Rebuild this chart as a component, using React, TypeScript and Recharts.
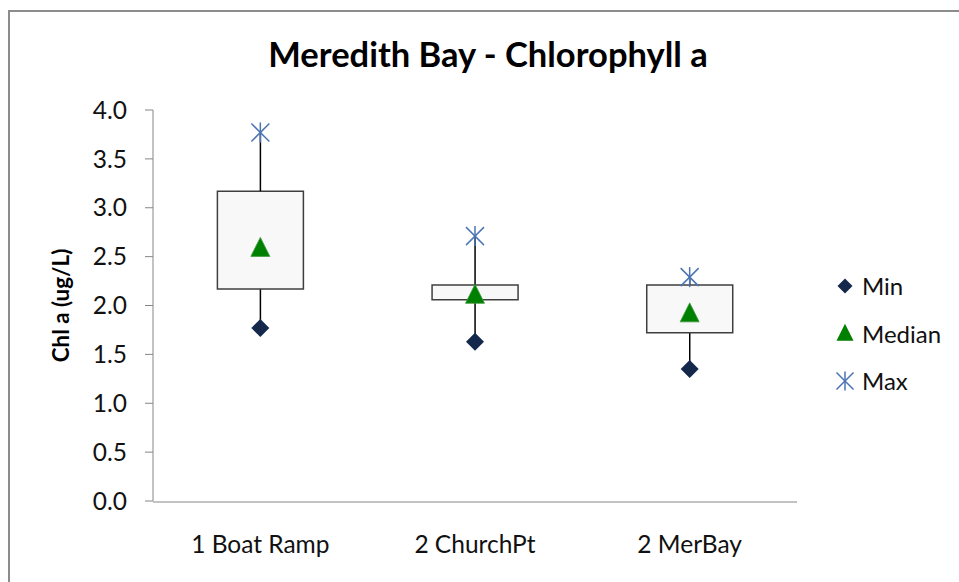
import React from "react";
import {
  ComposedChart,
  Bar,
  Scatter,
  XAxis,
  YAxis,
  Legend,
} from "recharts";

const categories = ["1 Boat Ramp", "2 ChurchPt", "2 MerBay"];
const minValues = [1.77, 1.63, 1.35];
const q1Values = [2.17, 2.06, 1.72];
const medianValues = [2.59, 2.11, 1.92];
const q3Values = [3.17, 2.21, 2.21];
const maxValues = [3.77, 2.71, 2.29];
const yTicks = [0, 0.5, 1, 1.5, 2, 2.5, 3, 3.5, 4];
const edgeTicks = [0, 1, 2, 3];
const legendNames = ["Min", "Median", "Max"];

const data = categories.map((name, i) => ({
  name,
  base: minValues[i],
  lowWhisker: q1Values[i] - minValues[i],
  box: q3Values[i] - q1Values[i],
  highWhisker: maxValues[i] - q3Values[i],
  min: minValues[i],
  median: medianValues[i],
  max: maxValues[i],
}));

const FONT = "Lato, 'Open Sans', sans-serif";
const AXIS = "#868686";
const MIN_COLOR = "#14284b";
const MED_COLOR = "#008000";
const MAX_COLOR = "#4a74b4";

const Whisker = (p: any) => {
  const x = p.x + p.width / 2;
  return <line x1={x} x2={x} y1={p.y} y2={p.y + p.height} stroke="#000" strokeWidth={1.5} />;
};

const diamondPath = (cx: number, cy: number, r: number) =>
  `M${cx},${cy - r}L${cx + r},${cy}L${cx},${cy + r}L${cx - r},${cy}Z`;
const trianglePath = (cx: number, cy: number, s: number) =>
  `M${cx},${cy - s * 0.55}L${cx + s / 2},${cy + s * 0.45}L${cx - s / 2},${cy + s * 0.45}Z`;

const MinShape = (p: any) => <path d={diamondPath(p.cx, p.cy, 9)} fill={MIN_COLOR} />;
const MedShape = (p: any) => (
  <path d={trianglePath(p.cx, p.cy, 19)} fill={MED_COLOR} stroke="#3d9a3d" strokeWidth={0.8} />
);
const Asterisk = ({ cx, cy, s = 10 }: { cx: number; cy: number; s?: number }) => (
  <g stroke={MAX_COLOR} strokeWidth={1.5} fill="none">
    <line x1={cx - s * 0.9} y1={cy - s * 0.9} x2={cx + s * 0.9} y2={cy + s * 0.9} />
    <line x1={cx - s * 0.9} y1={cy + s * 0.9} x2={cx + s * 0.9} y2={cy - s * 0.9} />
    <line x1={cx} y1={cy - s} x2={cx} y2={cy + s} />
  </g>
);
const MaxShape = (p: any) => <Asterisk cx={p.cx} cy={p.cy} />;

const legendIcon = (name: string) => {
  if (name === "Min") return <path d={diamondPath(10, 12, 7.5)} fill={MIN_COLOR} />;
  if (name === "Median") return <path d={trianglePath(10, 12, 17)} fill={MED_COLOR} />;
  return <Asterisk cx={10} cy={12} s={9.5} />;
};

const renderLegend = () => (
  <div style={{ fontFamily: FONT, fontSize: 24, color: "#111" }}>
    {legendNames.map((n) => (
      <div key={n} style={{ display: "flex", alignItems: "center", height: 47.5 }}>
        <svg width={22} height={24} style={{ marginRight: 5 }}>
          {legendIcon(n)}
        </svg>
        <span>{n}</span>
      </div>
    ))}
  </div>
);

export default function App() {
  return (
    <div style={{ position: "fixed", left: 0, top: 0, width: 959, height: 582, overflow: "hidden", background: "#fff" }}>
      <div
        style={{
          position: "absolute",
          left: 8,
          top: 10,
          width: 1000,
          height: 1000,
          borderLeft: "2px solid #8c8c8c",
          borderTop: "2px solid #8c8c8c",
        }}
      />
      <div
        style={{
          position: "absolute",
          left: 0,
          top: 34,
          width: 976,
          textAlign: "center",
          fontFamily: FONT,
          fontWeight: 700,
          fontSize: 34.5,
          lineHeight: "40px",
          color: "#000",
        }}
      >
        Meredith Bay - Chlorophyll a
      </div>
      <div style={{ position: "absolute", left: 0, top: 0 }}>
        <ComposedChart
          width={959}
          height={582}
          data={data}
          margin={{ top: 110, right: 38, bottom: 79, left: 33 }}
          barCategoryGap="30%"
        >
          <XAxis
            xAxisId="edges"
            type="number"
            domain={[0, 3]}
            ticks={edgeTicks}
            tick={false}
            height={1}
            tickSize={7}
            stroke={AXIS}
          />
          <XAxis
            dataKey="name"
            height={1}
            axisLine={false}
            tickLine={false}
            tickSize={0}
            tickMargin={35}
            tick={{ fontFamily: FONT, fontSize: 24.5, fill: "#111" }}
          />
          <YAxis
            width={120}
            domain={[0, 4]}
            ticks={yTicks}
            tickFormatter={(v: number) => v.toFixed(1)}
            tickSize={8}
            tickMargin={18}
            stroke={AXIS}
            tick={{ fontFamily: FONT, fontSize: 24.5, fill: "#111" }}
            label={{
              value: "Chl a (ug/L)",
              angle: -90,
              position: "center",
              dx: -32,
              style: { fontFamily: FONT, fontSize: 22.4, fontWeight: 700, fill: "#000" },
            }}
          />
          <Legend
            layout="vertical"
            align="right"
            verticalAlign="middle"
            width={124}
            wrapperStyle={{ top: 262, left: 835, width: 124 }}
            content={renderLegend}
          />
          <Bar dataKey="base" stackId="bx" fill="none" isAnimationActive={false} legendType="none" />
          <Bar dataKey="lowWhisker" stackId="bx" shape={Whisker} isAnimationActive={false} legendType="none" />
          <Bar
            dataKey="box"
            stackId="bx"
            fill="#f8f8f8"
            stroke="#3f3f3f"
            strokeWidth={1.5}
            isAnimationActive={false}
            legendType="none"
          />
          <Bar dataKey="highWhisker" stackId="bx" shape={Whisker} isAnimationActive={false} legendType="none" />
          <Scatter dataKey="min" name="Min" shape={MinShape} isAnimationActive={false} />
          <Scatter dataKey="median" name="Median" shape={MedShape} isAnimationActive={false} />
          <Scatter dataKey="max" name="Max" shape={MaxShape} isAnimationActive={false} />
        </ComposedChart>
      </div>
    </div>
  );
}
